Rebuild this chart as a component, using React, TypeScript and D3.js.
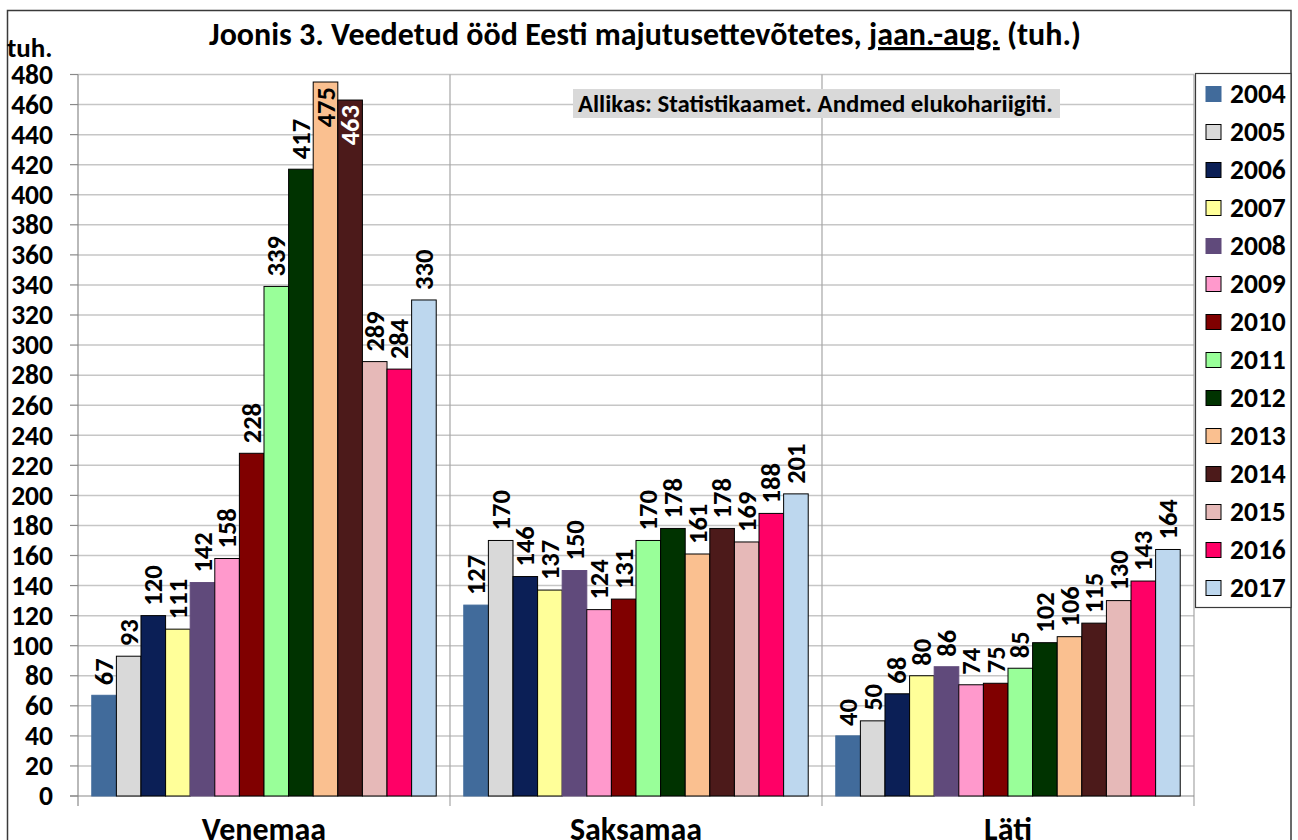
import React from "react";
import * as d3 from "d3";

const categories = ["Venemaa", "Saksamaa", "Läti"];
const years = ["2004", "2005", "2006", "2007", "2008", "2009", "2010", "2011", "2012", "2013", "2014", "2015", "2016", "2017"];
const venemaa = [67, 93, 120, 111, 142, 158, 228, 339, 417, 475, 463, 289, 284, 330];
const saksamaa = [127, 170, 146, 137, 150, 124, 131, 170, 178, 161, 178, 169, 188, 201];
const lati = [40, 50, 68, 80, 86, 74, 75, 85, 102, 106, 115, 130, 143, 164];
const yearColors = ["#416b9b", "#d9d9d9", "#0b1f56", "#ffff99", "#604a7b", "#ff99cc", "#800000", "#99ff99", "#003300", "#fac090", "#4c1a1a", "#e6b9b8", "#ff0066", "#bdd7ee"];
const yTicks = d3.range(0, 481, 20);

const seriesByCategory = [venemaa, saksamaa, lati];
const FONT = "Carlito, Lato, 'Open Sans', sans-serif";

export default function App() {
  const W = 1298, H = 840;
  const left = 78, right = 1194, top = 74.5, bottom = 796;
  const x0 = d3.scaleBand<string>().domain(categories).range([left, right]).padding(0);
  const x1 = d3.scaleBand<string>().domain(years).range([0, x0.bandwidth()]).paddingInner(0).paddingOuter(0.56);
  const y = d3.scaleLinear().domain([0, 480]).range([bottom, top]);
  const labelSize = 26.5;
  const digitW = 0.507 * labelSize;

  const noStroke = new Set(["2004", "2008"]);
  const strokeFor = (i: number) => (noStroke.has(years[i]) ? yearColors[i] : "#000");

  return (
    <svg width={W} height={H} style={{ position: "absolute", left: 0, top: 0, background: "#fff" }} fontFamily={FONT}>
      <rect x={0} y={0} width={W} height={H} fill="#fff" />
      {/* outer border */}
      <rect x={7.5} y={10.5} width={1283.5} height={H + 10} fill="none" stroke="#3a3a3a" strokeWidth={1.5} />
      {/* title */}
      <text x={645} y={45} textAnchor="middle" fontSize={32} fontWeight="bold" fill="#000">
        <tspan>Joonis 3. Veedetud ööd Eesti majutusettevõtetes, </tspan>
        <tspan textDecoration="underline" style={{ textDecoration: "underline" }}>jaan.-aug.</tspan>
        <tspan> (tuh.)</tspan>
      </text>
      <text x={7} y={57} fontSize={27} fontWeight="bold" fill="#000">tuh.</text>
      {/* gridlines */}
      {yTicks.map((t) => (
        <g key={t}>
          {t > 0 && <line x1={left} x2={right} y1={y(t)} y2={y(t)} stroke="#c6c6c6" strokeWidth={1.5} />}
          <line x1={70} x2={left} y1={y(t)} y2={y(t)} stroke="#8a8a8a" strokeWidth={1.2} />
          <text x={53} y={y(t)} dy="0.34em" textAnchor="end" fontSize={27.5} fontWeight="bold" fill="#000">{t}</text>
        </g>
      ))}
      {/* category separators */}
      {categories.map((c) => (
        <line key={c} x1={(x0(c) as number) + x0.bandwidth()} x2={(x0(c) as number) + x0.bandwidth()} y1={top} y2={806} stroke="#a6a6a6" strokeWidth={1.2} />
      ))}
      {/* axes */}
      <line x1={left} x2={left} y1={top} y2={806} stroke="#8a8a8a" strokeWidth={1.2} />
      <line x1={70} x2={right} y1={bottom} y2={bottom} stroke="#8a8a8a" strokeWidth={1.2} />
      {/* source note */}
      <rect x={573} y={89} width={487} height={29} fill="#d9d9d9" />
      <text x={578} y={112} fontSize={24.8} fontWeight="bold" fill="#000">Allikas: Statistikaamet. Andmed elukohariigiti.</text>
      {/* bars */}
      {categories.map((c, ci) => (
        <g key={c} transform={`translate(${x0(c)},0)`}>
          {seriesByCategory[ci].map((v, i) => {
            const bx = x1(years[i]) as number;
            const bw = x1.bandwidth();
            const by = y(v);
            const cx = bx + bw / 2;
            const txt = String(v);
            const len = txt.length * digitW;
            const outsideEnd = by - 10 - len;
            const inside = outsideEnd < top;
            const dark = d3.lab(yearColors[i]).l < 45;
            const labelY = inside ? by + 5 : by - 10;
            return (
              <g key={i}>
                <rect x={bx} y={by} width={bw} height={bottom - by} fill={yearColors[i]} stroke={strokeFor(i)} strokeWidth={1} />
                <text
                  transform={`translate(${cx},${labelY}) rotate(-90)`}
                  dy="0.34em"
                  textAnchor={inside ? "end" : "start"}
                  fontSize={labelSize}
                  fontWeight="bold"
                  fill={inside && dark ? "#fff" : "#000"}
                >
                  {txt}
                </text>
              </g>
            );
          })}
          <text x={x0.bandwidth() / 2} y={840} textAnchor="middle" fontSize={32} fontWeight="bold" fill="#000">{c}</text>
        </g>
      ))}
      {/* legend */}
      <rect x={1195.5} y={73.5} width={95.5} height={534} fill="#fff" stroke="#3a3a3a" strokeWidth={1.2} />
      {years.map((yr, i) => {
        const ly = 94 + i * 38;
        return (
          <g key={yr}>
            <rect x={1206} y={ly - 7.5} width={15} height={15} fill={yearColors[i]} stroke={noStroke.has(yr) ? yearColors[i] : "#000"} strokeWidth={1} />
            <text x={1230} y={ly} dy="0.34em" fontSize={27.5} fontWeight="bold" fill="#000">{yr}</text>
          </g>
        );
      })}
    </svg>
  );
}
